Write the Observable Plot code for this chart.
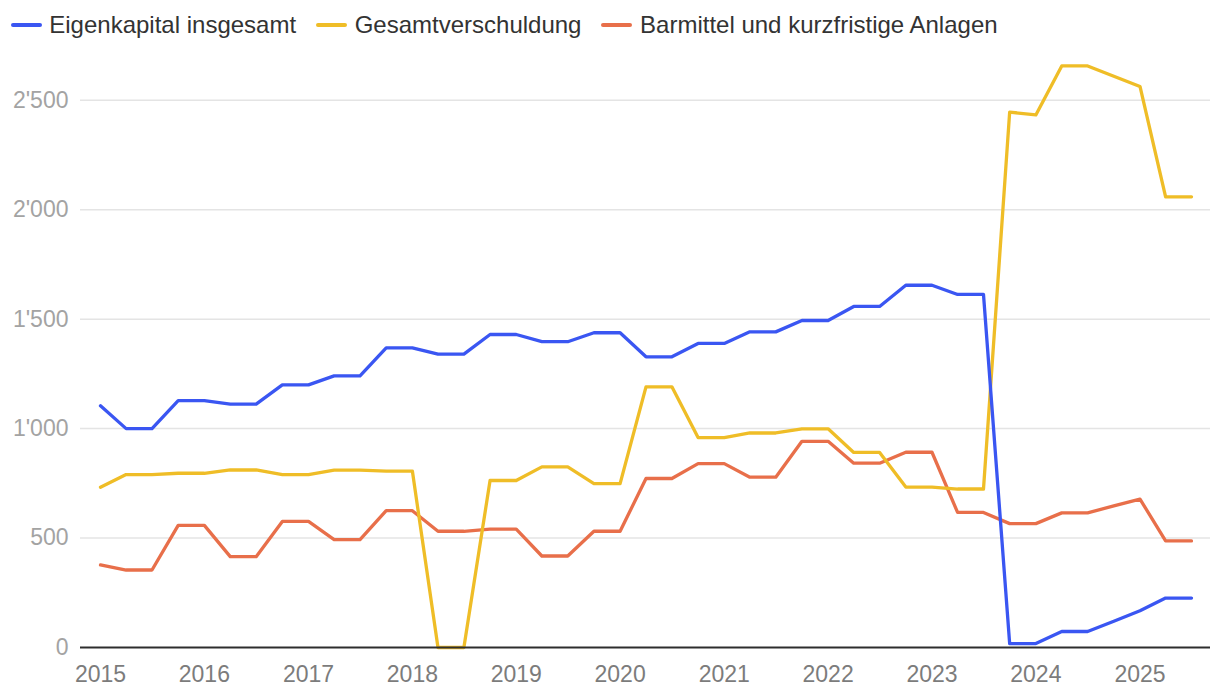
<!DOCTYPE html>
<html>
<head>
<meta charset="utf-8">
<script src="https://cdn.jsdelivr.net/npm/d3@7"></script>
<script src="https://cdn.jsdelivr.net/npm/@observablehq/plot@0.6"></script>
<style>
  html, body { margin: 0; padding: 0; background: #fff; }
  body { font-family: "Liberation Sans", Arial, Helvetica, sans-serif; width: 1220px; }
  #legend { height: 50px; display: flex; align-items: center; padding-left: 10.7px; font-size: 24px; color: #333; box-sizing: border-box; }
  .item { display: flex; align-items: center; margin-right: 20px; white-space: nowrap; }
  .sw { width: 31px; height: 3.5px; border-radius: 2px; margin-right: 7.6px; }
  #chart svg { display: block; }
</style>
</head>
<body>
<div id="legend"></div>
<div id="chart"></div>
<script>
const quarters = [
  "2015-01-01","2015-04-01","2015-07-01","2015-10-01",
  "2016-01-01","2016-04-01","2016-07-01","2016-10-01",
  "2017-01-01","2017-04-01","2017-07-01","2017-10-01",
  "2018-01-01","2018-04-01","2018-07-01","2018-10-01",
  "2019-01-01","2019-04-01","2019-07-01","2019-10-01",
  "2020-01-01","2020-04-01","2020-07-01","2020-10-01",
  "2021-01-01","2021-04-01","2021-07-01","2021-10-01",
  "2022-01-01","2022-04-01","2022-07-01","2022-10-01",
  "2023-01-01","2023-04-01","2023-07-01","2023-10-01",
  "2024-01-01","2024-04-01","2024-07-01","2024-10-01",
  "2025-01-01","2025-04-01","2025-07-01"
];

const eigenkapital = [1104,1000,1000,1128,1128,1112,1112,1200,1200,1241,1241,1369,1369,1340,1340,1430,1430,1397,1397,1438,1438,1328,1328,1389,1389,1442,1442,1494,1494,1558,1558,1655,1655,1613,1613,18,18,73,73,120,168,226,226];
const gesamtverschuldung = [732,790,790,796,796,811,811,790,790,810,810,806,806,0,0,763,763,825,825,749,749,1191,1191,959,959,980,980,999,999,891,891,733,733,724,724,2446,2433,2657,2657,2610,2563,2059,2059];
const barmittel = [377,354,354,558,558,415,415,576,576,493,493,625,625,531,531,541,541,418,418,531,531,772,772,840,840,778,778,942,942,842,842,892,892,617,617,566,566,615,615,647,678,487,487];

const seriesNames = ["Eigenkapital insgesamt", "Gesamtverschuldung", "Barmittel und kurzfristige Anlagen"];
const seriesColors = ["#3a56f2", "#efbd27", "#e86f4a"];
const seriesValues = [eigenkapital, gesamtverschuldung, barmittel];

const yTicks = [0, 500, 1000, 1500, 2000, 2500];
const xTickYears = ["2015","2016","2017","2018","2019","2020","2021","2022","2023","2024","2025"];

// Legend
const legend = document.getElementById("legend");
seriesNames.forEach((name, i) => {
  const item = document.createElement("div");
  item.className = "item";
  const sw = document.createElement("span");
  sw.className = "sw";
  sw.style.background = seriesColors[i];
  const label = document.createElement("span");
  label.textContent = name;
  item.appendChild(sw);
  item.appendChild(label);
  legend.appendChild(item);
});

const parse = d3.utcParse("%Y-%m-%d");
const dates = quarters.map(parse);
const table = [];
seriesNames.forEach((name, i) => {
  seriesValues[i].forEach((v, j) => table.push({date: dates[j], value: v, series: name}));
});

const fmt = d => d3.format(",")(d).replace(/,/g, "'");

const drawOrder = [2, 1, 0];

const chart = Plot.plot({
  width: 1220,
  height: 644,
  marginLeft: 80,
  marginRight: 10,
  marginTop: 6,
  marginBottom: 47,
  style: { fontFamily: '"Liberation Sans", Arial, Helvetica, sans-serif', fontSize: "23px", background: "#fff" },
  x: {
    type: "utc",
    domain: [dates[0], dates[dates.length - 1]],
    insetLeft: 20,
    insetRight: 19,
    label: null
  },
  y: { domain: [0, 2700], label: null },
  marks: [
    Plot.gridY(yTicks.filter(d => d > 0), { stroke: "#e4e4e4", strokeOpacity: 1, strokeWidth: 1.5 }),
    Plot.axisY(yTicks, { tickSize: 0, tickPadding: 12, tickFormat: fmt, color: "#a3a3a3", label: null }),
    Plot.axisX(xTickYears.map(y => parse(y + "-01-01")), { tickSize: 0, tickPadding: 18, tickFormat: d3.utcFormat("%Y"), color: "#7c7c7c", label: null }),
    ...drawOrder.map(i => Plot.line(table.filter(d => d.series === seriesNames[i]), {
      x: "date", y: "value", stroke: seriesColors[i], strokeWidth: 3.3, strokeLinejoin: "round", strokeLinecap: "round"
    })),
    Plot.ruleY([0], { stroke: "#2e2e2e", strokeWidth: 2 })
  ]
});
document.getElementById("chart").appendChild(chart);
</script>
</body>
</html>
